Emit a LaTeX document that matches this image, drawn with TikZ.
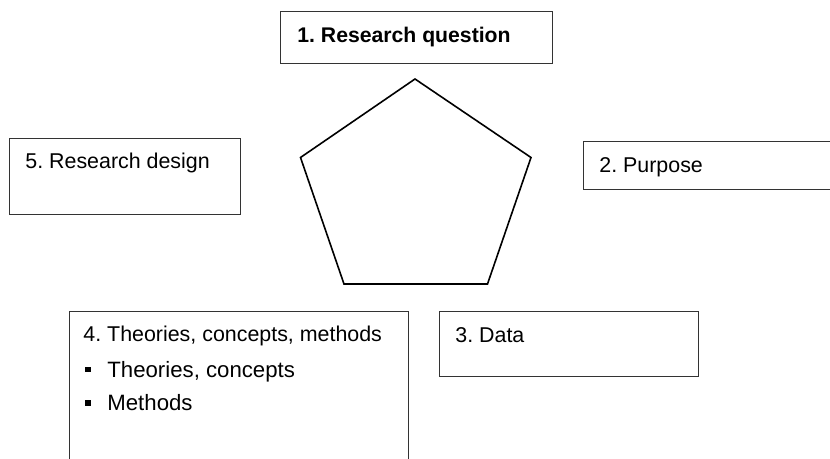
\documentclass[tikz,border=0pt]{standalone}
\usepackage{fontspec}
\setmainfont{Liberation Sans}
\frenchspacing
\usetikzlibrary{positioning}
\tikzstyle{box}=[rectangle,draw=black!80,line width=0.55pt,anchor=north west,inner sep=0pt]
\tikzstyle{boxtext}=[font=\fontsize{10.7}{12.8}\selectfont,inner sep=0pt,anchor=base west]
\tikzstyle{itemtext}=[font=\fontsize{11.1}{13.3}\selectfont,inner sep=0pt,anchor=base west]
\tikzstyle{bulletmark}=[rectangle,fill=black,minimum size=2.7pt,inner sep=0pt]
\tikzstyle{pentagonline}=[draw=black,line width=0.8pt,line join=miter]

\begin{document}
\begin{tikzpicture}[x=0.5pt,y=-0.5pt]
\useasboundingbox (0,0) rectangle (830,459);
\clip (0,0) rectangle (830,459);

    % the five boxes (sizes in pt)
    \foreach \pos/\name/\w/\h in {{(280,11)/question/136/26}, {(583,141)/purpose/130/24}, {(9,138)/design/115.5/38}, {(439,311)/data/129.5/32.5}, {(69,311)/theories/169.5/85}}
        \node[box,minimum width=\w pt,minimum height=\h pt] (\name) at \pos {};

    % the pentagon in the middle
    \coordinate (p1) at (415,79);
    \coordinate (p2) at (531,157.5);
    \coordinate (p3) at (487.5,284);
    \coordinate (p4) at (344,284);
    \coordinate (p5) at (300.5,157.5);
    \path[pentagonline] (p1) -- (p2) -- (p3) -- (p4) -- (p5) -- cycle;

    % texts of the boxes
    \node[boxtext,font=\fontsize{10.6}{12.7}\selectfont\bfseries] (questiontxt) at (297,42.7) {1. Research question};
    \node[boxtext] (purposetxt) at (599,172.5) {2. Purpose};
    \node[boxtext] (datatxt) at (455,342.3) {3. Data};
    \node[boxtext] (theoriestxt) at (83,341.7) {4. Theories, concepts, methods};
    \node[boxtext] (designtxt) at (25,168.3) {5. Research design};

    % bullet list in box 4
    \foreach \y/\name/\label in {{377.3/concepts/Theories, concepts}, {410.5/methods/Methods}}
    {
        \node[itemtext] (\name) at (107,\y) {\label};
        \node[bulletmark] (\name bullet) at (88,\y-7.5) {};
    }

\end{tikzpicture}
\end{document}
